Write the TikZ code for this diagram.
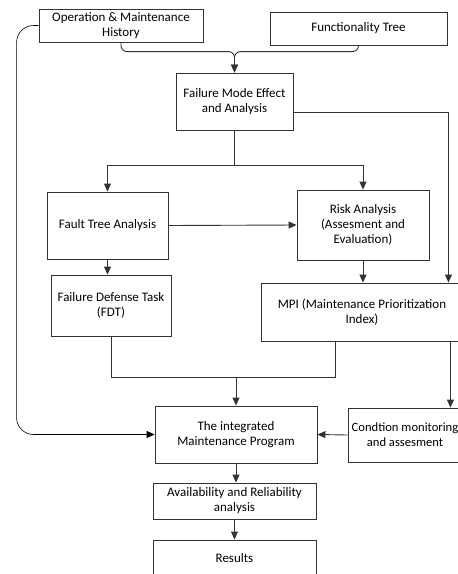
\documentclass[tikz,border=0pt]{standalone}
\usepackage{fontspec}
\setmainfont{Carlito}
\usetikzlibrary{arrows.meta,calc}
\begin{document}
\begin{tikzpicture}[x=1pt,y=-1pt,
  box/.style={draw=black!80,line width=0.9pt,inner sep=0pt,align=center,font=\fontsize{13}{15}\selectfont},
  conn/.style={draw=black!80,line width=0.9pt},
  arr/.style={conn,-{Triangle[length=8pt,width=7pt]}}]
\useasboundingbox (0,0) rectangle (458,574);
\clip (0,0) rectangle (458,574);
\node[box,minimum width=164pt,minimum height=33pt] (om) at (121,25.5) {Operation \& Maintenance\\History};
\node[box,minimum width=177pt,minimum height=33pt] (ft) at (358.5,28.5) {Functionality Tree};
\node[box,minimum width=117pt,minimum height=57pt] (fmea) at (234.5,101.5) {Failure Mode Effect\\and Analysis};
\node[box,minimum width=121pt,minimum height=67pt] (fta) at (107.5,225.5) {Fault Tree Analysis};
\node[box,minimum width=132pt,minimum height=70pt] (risk) at (363,225) {Risk Analysis\\(Assesment and\\Evaluation)};
\node[box,minimum width=120pt,minimum height=61pt] (fdt) at (111,305.5) {Failure Defense Task\\(FDT)};
\node[box,minimum width=202pt,minimum height=58pt] (mpi) at (362,312) {MPI (Maintenance Prioritization\\Index)};
\node[box,minimum width=162pt,minimum height=57pt] (imp) at (236,434.5) {The integrated\\Maintenance Program};
\node[box,minimum width=114pt,minimum height=54pt,font=\fontsize{12.6}{15}\selectfont] (cond) at (405,435) {Condtion monitoring\\and assesment};
\node[box,minimum width=163pt,minimum height=36pt] (avail) at (234.5,501) {Availability and Reliability\\analysis};
\node[box,minimum width=163pt,minimum height=36pt] (res) at (234.5,558) {Results};
% top merge
\coordinate (m) at ($(fmea.north)+(0,-21)$);
\draw[arr,rounded corners=6pt] (om.south) |- (m) -- (fmea.north);
\draw[arr,rounded corners=6pt] (ft.south) |- (m) -- (fmea.north);
% FMEA to MPI on the right
\draw[arr] ($(fmea.east)+(0,10.5)$) -| ($(mpi.north east)+(-15,0)$);
% FMEA split
\coordinate (k) at ($(fmea.south)+(0,35)$);
\draw[conn] (fmea.south) -- (k);
\draw[arr] (k) -| (fta.north);
\draw[arr] (k) -| (risk.north);
\draw[arr] (fta.east) -- (risk.west);
\draw[arr] (fta.south) -- (fta.south |- fdt.north);
\draw[arr] (risk.south) -- (risk.south |- mpi.north);
% merge into integrated program
\coordinate (j) at ($(imp.north)+(0,-28)$);
\draw[conn] (fdt.south) |- (j) -| ($(mpi.south west)+(75,0)$);
\draw[arr] (j) -- (imp.north);
\draw[arr] ($(mpi.south east)+(-13,0)$) -- ($(cond.north east)+(-12,0)$);
\draw[arr] (cond.west) -- (imp.east);
% history loop on the left
\draw[arr,draw=black,line width=0.6pt,rounded corners=17pt] (om.west) -| ($(imp.west)+(-138,0)$) -- (imp.west);
\draw[arr] (imp.south) -- (imp.south |- avail.north);
\draw[arr] (avail.south) -- (avail.south |- res.north);
\end{tikzpicture}
\end{document}
